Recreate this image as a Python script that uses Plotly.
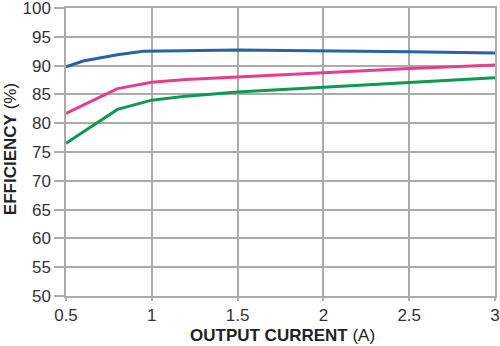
import plotly.graph_objects as go

x_blue = [0.5, 0.6, 0.8, 0.95, 1.5, 2.0, 2.5, 3.0]
y_blue = [89.8, 90.8, 91.9, 92.5, 92.7, 92.6, 92.4, 92.2]
x_pink = [0.5, 0.65, 0.8, 1.0, 1.2, 1.5, 2.0, 2.5, 3.0]
y_pink = [81.7, 83.9, 86.0, 87.1, 87.6, 88.0, 88.8, 89.5, 90.1]
x_green = [0.5, 0.65, 0.8, 1.0, 1.2, 1.5, 2.0, 2.5, 3.0]
y_green = [76.5, 79.5, 82.4, 84.0, 84.7, 85.4, 86.2, 87.1, 87.9]

x_ticks = [0.5, 1, 1.5, 2, 2.5, 3]
x_ticklabels = ["0.5", "1", "1.5", "2", "2.5", "3"]
y_ticks = list(range(50, 101, 5))

fig = go.Figure()
for xs, ys, c in [(x_green, y_green, "#0a9a50"), (x_pink, y_pink, "#e63e8c"), (x_blue, y_blue, "#2a62a3")]:
    fig.add_trace(go.Scatter(x=xs, y=ys, mode="lines", line=dict(color=c, width=3), showlegend=False))

font = "Liberation Sans, Arial, sans-serif"
fig.update_layout(
    width=500, height=346,
    margin=dict(l=66, r=5, t=8, b=50),
    paper_bgcolor="white", plot_bgcolor="white",
    font=dict(family=font, color="#333333"),
)
common = dict(
    showgrid=True, gridcolor="#ababab", gridwidth=1.5,
    showline=True, linecolor="#ababab", linewidth=1.5, mirror=True,
    ticks="outside", tickcolor="#ababab", tickwidth=1.5,
    tickfont=dict(size=17, color="#333333"),
    zeroline=False, automargin=False, ticklabeloverflow="allow",
)
fig.update_xaxes(range=[0.5, 3], tickvals=x_ticks, ticktext=x_ticklabels, ticklen=3, **common)
fig.update_yaxes(range=[50, 100], tickvals=y_ticks, ticklen=10, **common)

fig.add_annotation(text="<b>OUTPUT CURRENT</b> (A)", xref="paper", yref="paper",
                   x=0.505, y=-0.138, xanchor="center", yanchor="middle", showarrow=False,
                   font=dict(size=17, color="#222222"))
fig.add_annotation(text="<b>EFFICIENCY</b> (%)", xref="paper", yref="paper",
                   x=-0.1305, y=0.51, xanchor="center", yanchor="middle", showarrow=False,
                   textangle=-90, font=dict(size=17, color="#222222"))
fig.write_html("out.html")
